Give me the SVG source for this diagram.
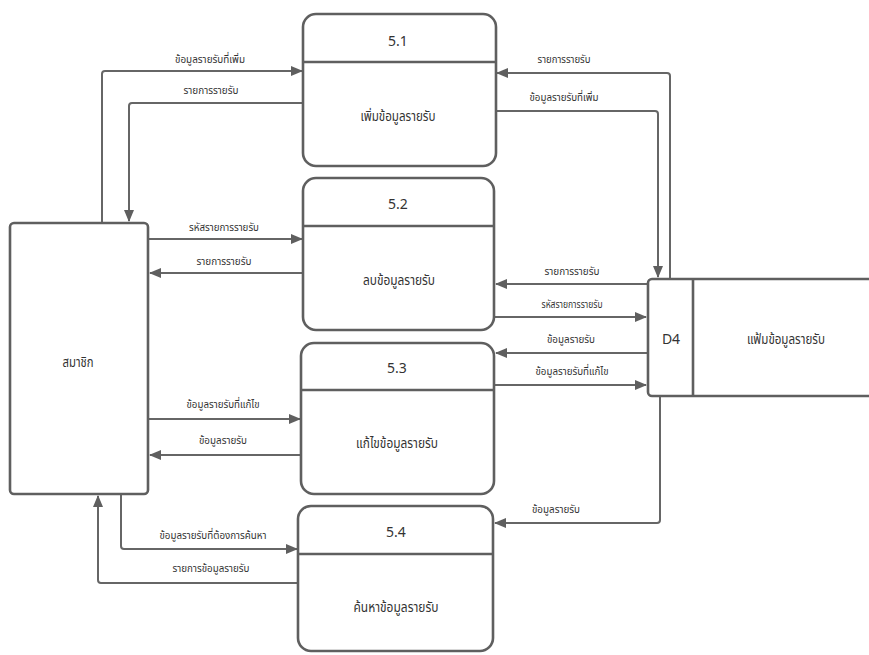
<svg xmlns="http://www.w3.org/2000/svg" width="869" height="655" viewBox="0 0 869 655">
<defs>
<marker id="ah" markerUnits="userSpaceOnUse" markerWidth="12" markerHeight="10" refX="11" refY="5" orient="auto">
<path d="M0,0 L12,5 L0,10 Z" fill="#5f5f5f"/>
</marker>
<style>
.box{fill:#fff;stroke:#5f5f5f;stroke-width:2.6}
.div{stroke:#5f5f5f;stroke-width:2.6}
.ln{fill:none;stroke:#666;stroke-width:2;stroke-linejoin:round;marker-end:url(#ah)}
text{font-family:"Noto Sans Thai","Tahoma","Leelawadee UI","Noto Sans","DejaVu Sans",sans-serif;fill:#333;text-anchor:middle}
.lb{font-size:11px}
.bt{font-size:14px}
</style>
</defs>
<rect width="869" height="655" fill="#fff"/>
<g id="connectors">
<path class="ln" d="M102,223 V74 Q102,71 105,71 H302"/>
<path class="ln" d="M303,103 H132 Q129,103 129,106 V221"/>
<path class="ln" d="M148,239 H302"/>
<path class="ln" d="M303,273 H150"/>
<path class="ln" d="M148,419 H300"/>
<path class="ln" d="M301,455 H150"/>
<path class="ln" d="M121,494 V546 Q121,549 124,549 H297"/>
<path class="ln" d="M298,583 H101 Q98,583 98,580 V496"/>
<path class="ln" d="M670,279 V76 Q670,73 667,73 H497"/>
<path class="ln" d="M496,111 H655 Q658,111 658,114 V277"/>
<path class="ln" d="M648,284 H496"/>
<path class="ln" d="M494,317 H646"/>
<path class="ln" d="M648,353 H496"/>
<path class="ln" d="M494,385 H646"/>
<path class="ln" d="M660,396 V520 Q660,523 657,523 H495"/>
<g class="labels">
<text class="lb" x="210" y="63" textLength="70" lengthAdjust="spacingAndGlyphs">ข้อมูลรายรับที่เพิ่ม</text>
<text class="lb" x="211" y="94" textLength="55" lengthAdjust="spacingAndGlyphs">รายการรายรับ</text>
<text class="lb" x="224" y="231" textLength="70" lengthAdjust="spacingAndGlyphs">รหัสรายการรายรับ</text>
<text class="lb" x="224" y="265" textLength="55" lengthAdjust="spacingAndGlyphs">รายการรายรับ</text>
<text class="lb" x="223" y="408" textLength="73" lengthAdjust="spacingAndGlyphs">ข้อมูลรายรับที่แก้ไข</text>
<text class="lb" x="223" y="444" textLength="48" lengthAdjust="spacingAndGlyphs">ข้อมูลรายรับ</text>
<text class="lb" x="213" y="539" textLength="107" lengthAdjust="spacingAndGlyphs">ข้อมูลรายรับที่ต้องการค้นหา</text>
<text class="lb" x="211" y="572" textLength="77" lengthAdjust="spacingAndGlyphs">รายการข้อมูลรายรับ</text>
<text class="lb" x="564" y="63" textLength="53" lengthAdjust="spacingAndGlyphs">รายการรายรับ</text>
<text class="lb" x="564" y="101" textLength="69" lengthAdjust="spacingAndGlyphs">ข้อมูลรายรับที่เพิ่ม</text>
<text class="lb" x="572" y="275" textLength="55" lengthAdjust="spacingAndGlyphs">รายการรายรับ</text>
<text class="lb" x="572" y="308" textLength="61" lengthAdjust="spacingAndGlyphs">รหัสรายการรายรับ</text>
<text class="lb" x="571" y="343" textLength="48" lengthAdjust="spacingAndGlyphs">ข้อมูลรายรับ</text>
<text class="lb" x="572" y="375" textLength="73" lengthAdjust="spacingAndGlyphs">ข้อมูลรายรับที่แก้ไข</text>
<text class="lb" x="556" y="513" textLength="48" lengthAdjust="spacingAndGlyphs">ข้อมูลรายรับ</text>
</g>
</g>
<g id="member">
<rect class="box" x="10" y="223" width="138" height="271" rx="4"/>
<text class="bt" x="78" y="367" textLength="31" lengthAdjust="spacingAndGlyphs">สมาชิก</text>
</g>
<g id="p51">
<rect class="box" x="303" y="14" width="193" height="152" rx="13"/>
<line class="div" x1="303" y1="62" x2="496" y2="62"/>
<text class="bt" x="398" y="46">5.1</text>
<text class="bt" x="398" y="121" textLength="75" lengthAdjust="spacingAndGlyphs">เพิ่มข้อมูลรายรับ</text>
</g>
<g id="p52">
<rect class="box" x="303" y="178" width="191" height="152" rx="13"/>
<line class="div" x1="303" y1="226" x2="494" y2="226"/>
<text class="bt" x="398" y="209">5.2</text>
<text class="bt" x="399" y="285" textLength="72" lengthAdjust="spacingAndGlyphs">ลบข้อมูลรายรับ</text>
</g>
<g id="p53">
<rect class="box" x="301" y="343" width="193" height="151" rx="13"/>
<line class="div" x1="301" y1="390" x2="494" y2="390"/>
<text class="bt" x="397" y="373">5.3</text>
<text class="bt" x="397" y="448" textLength="82" lengthAdjust="spacingAndGlyphs">แก้ไขข้อมูลรายรับ</text>
</g>
<g id="p54">
<rect class="box" x="298" y="506" width="195" height="145" rx="13"/>
<line class="div" x1="298" y1="554" x2="493" y2="554"/>
<text class="bt" x="396" y="537">5.4</text>
<text class="bt" x="396" y="612" textLength="85" lengthAdjust="spacingAndGlyphs">ค้นหาข้อมูลรายรับ</text>
</g>
<g id="d4">
<rect class="box" x="648" y="279" width="240" height="117" rx="4"/>
<line class="div" x1="693" y1="279" x2="693" y2="396"/>
<text class="bt" x="671" y="344">D4</text>
<text class="bt" x="786" y="344" textLength="78" lengthAdjust="spacingAndGlyphs">แฟ้มข้อมูลรายรับ</text>
</g>
</svg>
